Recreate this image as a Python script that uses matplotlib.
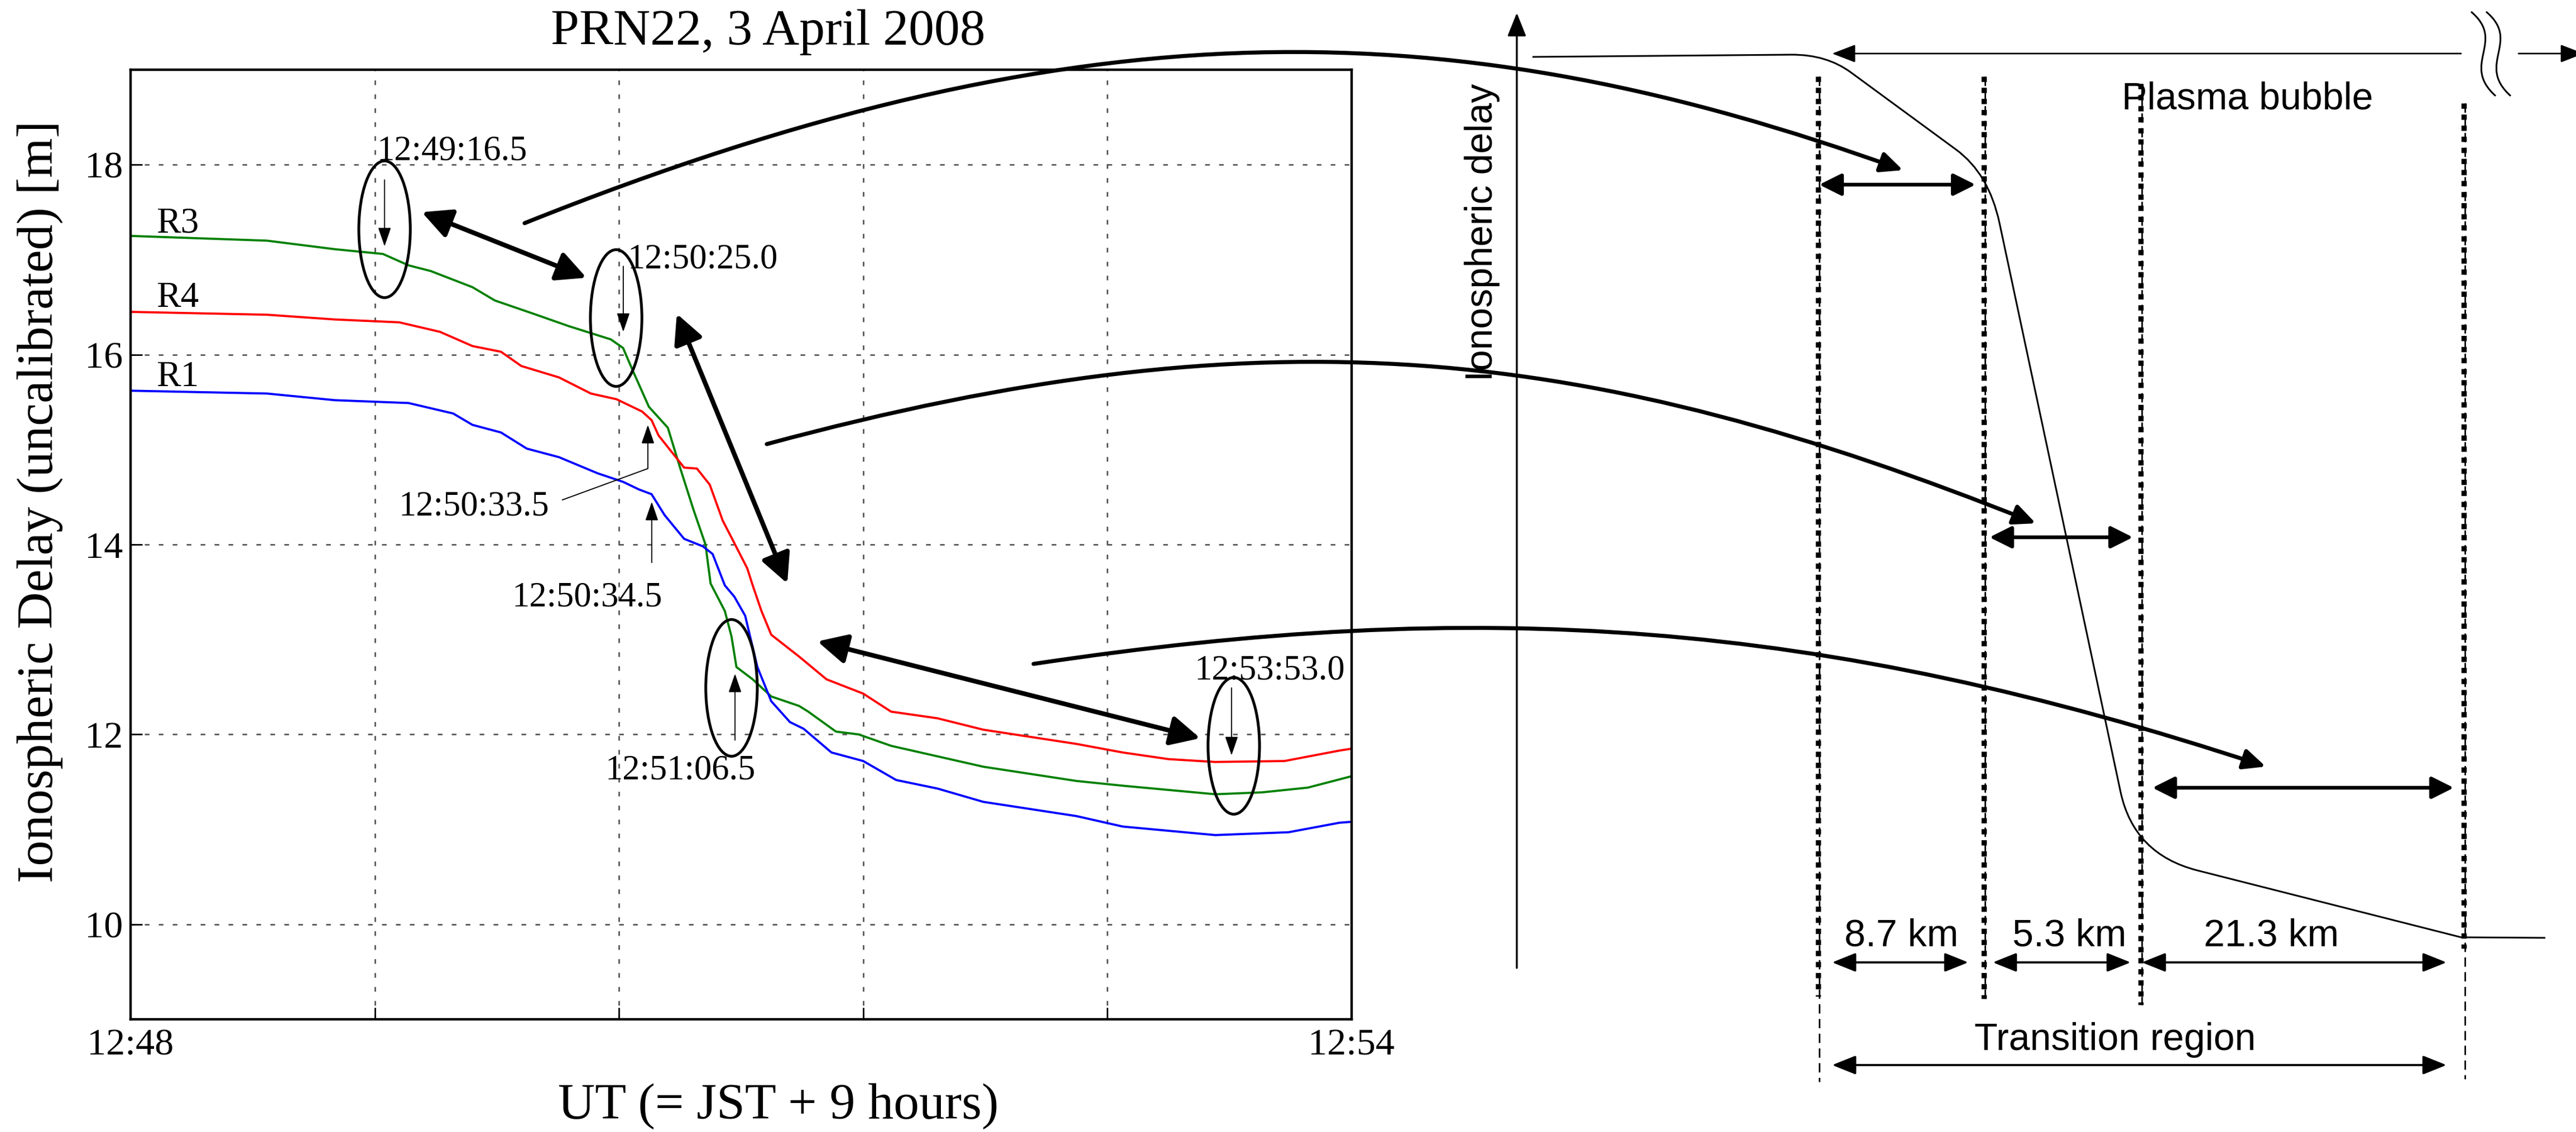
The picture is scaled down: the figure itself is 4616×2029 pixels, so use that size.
import matplotlib
matplotlib.use('Agg')
import matplotlib.pyplot as plt
from matplotlib.patches import Ellipse, FancyArrowPatch, PathPatch
from matplotlib.path import Path

W, H, DPI = 4616, 2029, 200

# ---- data: time in minutes after 12:48 UT, delay in metres ----
r3_t = [0, 0.67, 1.004, 1.24, 1.366, 1.475, 1.68, 1.79, 1.98, 2.153, 2.36, 2.42,
        2.468, 2.547, 2.64, 2.70, 2.767, 2.825, 2.85, 2.92, 2.953, 2.977, 3.057,
        3.148, 3.285, 3.33, 3.466, 3.578, 3.737, 4.19, 4.648, 4.875, 5.33, 5.56,
        5.785, 6.0]
r3_y = [17.25, 17.20, 17.11, 17.06, 16.94, 16.88, 16.71, 16.57, 16.43, 16.30, 16.16,
        16.07, 15.83, 15.45, 15.23, 14.81, 14.36, 14.0, 13.59, 13.30, 13.03, 12.71,
        12.58, 12.40, 12.30, 12.24, 12.03, 12.00, 11.88, 11.66, 11.51, 11.46, 11.37,
        11.39, 11.44, 11.56]

r4_t = [0, 0.67, 1.004, 1.32, 1.52, 1.68, 1.82, 1.92, 2.105, 2.262, 2.388, 2.514,
        2.56, 2.594, 2.72, 2.783, 2.846, 2.91, 2.956, 3.03, 3.057, 3.10, 3.148,
        3.285, 3.42, 3.60, 3.737, 3.965, 4.19, 4.648, 4.875, 5.10, 5.33, 5.67,
        5.94, 6.0]
r4_y = [16.45, 16.42, 16.37, 16.34, 16.24, 16.09, 16.03, 15.88, 15.76, 15.59, 15.53,
        15.40, 15.31, 15.15, 14.81, 14.80, 14.63, 14.25, 14.06, 13.75, 13.57, 13.30,
        13.05, 12.82, 12.58, 12.43, 12.24, 12.17, 12.05, 11.90, 11.81, 11.74, 11.71,
        11.72, 11.83, 11.85]

r1_t = [0, 0.67, 1.004, 1.366, 1.585, 1.68, 1.82, 1.947, 2.105, 2.295, 2.42, 2.498,
        2.56, 2.624, 2.72, 2.813, 2.86, 2.92, 2.967, 3.02, 3.08, 3.148, 3.24, 3.307,
        3.444, 3.60, 3.762, 3.965, 4.19, 4.648, 4.875, 5.33, 5.69, 5.94, 6.0]
r1_y = [15.62, 15.59, 15.52, 15.49, 15.38, 15.26, 15.18, 15.01, 14.92, 14.75, 14.66,
        14.58, 14.53, 14.31, 14.06, 13.98, 13.90, 13.57, 13.45, 13.25, 12.71, 12.35,
        12.13, 12.06, 11.81, 11.72, 11.52, 11.43, 11.29, 11.14, 11.03, 10.94, 10.97,
        11.07, 11.08]

x_ticks = [0, 1.2, 2.4, 3.6, 4.8, 6.0]
x_tick_labels = ['12:48', '', '', '', '', '12:54']
y_ticks = [10, 12, 14, 16, 18]

# event marks: (label, label x, label baseline y, ellipse centre, arrow tail, arrow tip)
events = [
    ('12:49:16.5', 1.212, 18.05, (1.248, 17.32), (1.248, 17.84), (1.248, 17.14)),
    ('12:50:25.0', 2.443, 16.91, (2.386, 16.385), (2.421, 16.93), (2.421, 16.24)),
    ('12:51:06.5', 2.331, 11.53, (2.953, 12.49), (2.970, 11.94), (2.970, 12.64)),
    ('12:53:53.0', 5.229, 12.58, (5.421, 11.88), (5.410, 12.49), (5.410, 11.78)),
]
ell_w, ell_h = 0.253, 1.44

serif = 'Liberation Serif'
sans = 'Liberation Sans'

fig = plt.figure(figsize=(W / DPI, H / DPI), dpi=DPI)
ax = fig.add_axes([234 / W, 1 - 1827 / H, (2422 - 234) / W, (1827 - 125) / H])

ax.plot(r3_t, r3_y, color='#008000', lw=1.4)
ax.plot(r4_t, r4_y, color='#ff0000', lw=1.4)
ax.plot(r1_t, r1_y, color='#0000ff', lw=1.4)

ax.set_xlim(0, 6)
ax.set_ylim(9, 19)
ax.set_xticks(x_ticks)
ax.set_xticklabels(x_tick_labels)
ax.set_yticks(y_ticks)
ax.tick_params(direction='in', length=7.5, width=1)
ax.tick_params(axis='x', pad=6)
ax.tick_params(axis='y', pad=5)
for lab in ax.get_xticklabels() + ax.get_yticklabels():
    lab.set_fontfamily(serif)
    lab.set_fontsize(24.5)
ax.grid(True, color='0.35', lw=1, ls=(0, (3, 6)))
for s in ax.spines.values():
    s.set_linewidth(1.6)


def arrow(a, p, q, style, lw):
    a.add_patch(FancyArrowPatch(p, q, arrowstyle=style, mutation_scale=1, lw=lw,
                                color='k', shrinkA=0, shrinkB=0, zorder=4))


thin_head = '-|>,head_length=10.5,head_width=3.6'
for lab, lx, ly, c, tail, tip in events:
    ax.add_patch(Ellipse(c, ell_w, ell_h, fill=False, lw=1.8, ec='k', zorder=4))
    arrow(ax, tail, tip, thin_head, 0.7)
    ax.text(lx, ly, lab, fontfamily=serif, fontsize=22.5, va='baseline', ha='left')

# 12:50:33.5 with leader line, 12:50:34.5 plain arrow
ax.plot([2.122, 2.542, 2.542], [14.47, 14.80, 15.0], color='k', lw=0.7)
arrow(ax, (2.542, 14.9), (2.542, 15.26), thin_head, 0.7)
ax.text(1.319, 14.31, '12:50:33.5', fontfamily=serif, fontsize=22.5, va='baseline')
arrow(ax, (2.561, 13.81), (2.561, 14.45), thin_head, 0.7)
ax.text(1.873, 13.35, '12:50:34.5', fontfamily=serif, fontsize=22.5, va='baseline')

for name, yb in [('R3', 17.29), ('R4', 16.50), ('R1', 15.67)]:
    ax.text(0.126, yb, name, fontfamily=serif, fontsize=23.5, va='baseline')

thick_dbl = '<|-|>,head_length=16,head_width=8'
arrow(ax, (1.431, 17.50), (2.240, 16.81), thick_dbl, 3.0)
arrow(ax, (2.684, 16.43), (3.227, 13.59), thick_dbl, 3.0)
arrow(ax, (3.375, 12.98), (5.256, 11.96), thick_dbl, 3.0)

fig.text(1376 / W, 1 - 58 / H, 'PRN22, 3 April 2008', fontfamily=serif, fontsize=33,
         ha='center', va='center')
fig.text(72 / W, 1 - 899 / H, 'Ionospheric Delay (uncalibrated) [m]', fontfamily=serif,
         fontsize=33, rotation=90, ha='center', va='center')
fig.text(1395 / W, 1 - 1983 / H, 'UT (= JST + 9 hours)', fontfamily=serif, fontsize=33,
         ha='center', va='center')

# ---- schematic overlay in pixel coordinates ----
ov = fig.add_axes([0, 0, 1, 1], zorder=5)
ov.set_xlim(0, W)
ov.set_ylim(H, 0)
ov.axis('off')
ov.patch.set_alpha(0)

# delay axis
arrow(ov, (2718, 1735), (2718, 23), '-|>,head_length=13,head_width=5.2', 1.2)
ov.text(2656, 416, 'Ionospheric delay', fontfamily=sans, fontsize=24.5, rotation=90,
        ha='center', va='center')

# schematic delay profile
prof = Path([(2746, 102), (3210, 98), (3273, 97.5), (3317, 130), (3505, 268),
             (3564, 311), (3583, 400), (3800, 1420), (3824, 1531), (3937, 1560),
             (4410, 1680), (4561, 1681)],
            [Path.MOVETO, Path.LINETO, Path.CURVE3, Path.CURVE3, Path.LINETO,
             Path.CURVE3, Path.CURVE3, Path.LINETO, Path.CURVE3, Path.CURVE3,
             Path.LINETO, Path.LINETO])
ov.add_patch(PathPatch(prof, fill=False, lw=1.1, ec='k'))

# plasma bubble extent with break
arrow(ov, (4410, 96), (3283, 96), '-|>,head_length=13,head_width=5', 1.0)
arrow(ov, (4513, 96), (4630, 96), '-|>,head_length=13,head_width=5', 1.0)
for dx in (0, 27):
    brk = Path([(4428 + dx, 21), (4492 + dx, 75), (4408 + dx, 115), (4472 + dx, 172)],
               [Path.MOVETO, Path.CURVE4, Path.CURVE4, Path.CURVE4])
    ov.add_patch(PathPatch(brk, fill=False, lw=1.1, ec='k'))
ov.text(4027, 195, 'Plasma bubble', fontfamily=sans, fontsize=24.5, ha='center',
        va='baseline')

# boundaries: x, thick dotted span, thin dashed span
bounds = [(3258, 137, 1786, 1939), (3555, 137, 1790, 1790),
          (3836, 150, 1801, 1801), (4415, 185, 1700, 1934)]
for bx, y0, y1, y2 in bounds:
    ov.plot([bx, bx], [y0, y1], color='k', lw=3.4, ls=(0, (1, 1.1)))
    ov.plot([bx + 2, bx + 2], [y0, y2], color='k', lw=1.0, ls=(0, (6, 3.5)))

big_dbl = '<|-|>,head_length=12,head_width=6'
arrow(ov, (3260, 331), (3540, 331), big_dbl, 2.4)
arrow(ov, (3565, 963), (3822, 963), big_dbl, 2.4)
arrow(ov, (3857, 1412), (4397, 1412), big_dbl, 2.4)

km_dbl = '<|-|>,head_length=13,head_width=5.2'
for xa, xb, lab, xc in [(3283, 3527, '8.7 km', 3407), (3571, 3818, '5.3 km', 3708),
                        (3838, 4384, '21.3 km', 4070)]:
    arrow(ov, (xa, 1725), (xb, 1725), km_dbl, 1.4)
    ov.text(xc, 1695, lab, fontfamily=sans, fontsize=24.5, ha='center', va='baseline')
arrow(ov, (3283, 1909), (4384, 1909), km_dbl, 1.4)
ov.text(3790, 1882, 'Transition region', fontfamily=sans, fontsize=24.5, ha='center',
        va='baseline')

# curved arrows linking the plot to the schematic
curves = [
    [(940, 400), (1940, 0), (2610, 17), (3410, 305)],
    [(1374, 796), (2274, 553), (2848, 618), (3648, 938)],
    [(1852, 1190), (2652, 1070), (3260, 1110), (4060, 1374)],
]
for pts in curves:
    cp = Path(pts, [Path.MOVETO, Path.CURVE4, Path.CURVE4, Path.CURVE4])
    ov.add_patch(FancyArrowPatch(path=cp, arrowstyle='-|>,head_length=12,head_width=5.5',
                                 mutation_scale=1, lw=2.6, color='k'))

fig.savefig('out.png', dpi=DPI)
